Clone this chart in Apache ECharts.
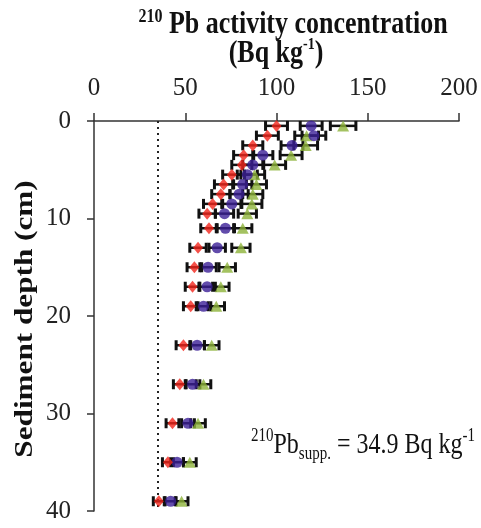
<!DOCTYPE html>
<html>
<head>
<meta charset="utf-8">
<script src="https://cdn.jsdelivr.net/npm/echarts@6/dist/echarts.min.js"></script>
<style>
  html, body { margin: 0; padding: 0; background: #fff; }
  #main { width: 481px; height: 528px; }
</style>
</head>
<body>
<div id="main"></div>
<script>
// depth (cm) of each sample, shared by the three cores
const depths = [0.5, 1.5, 2.5, 3.5, 4.5, 5.5, 6.5, 7.5, 8.5, 9.5, 11, 13, 15, 17, 19, 23, 27, 31, 35, 39];

// 210Pb activity (Bq/kg)
const redValues = [100, 95, 87, 82, 81, 75.5, 71, 69.5, 65, 62, 63, 57, 55, 54, 53, 49, 47, 43, 40.5, 35.5];
const blueValues = [119, 120.5, 108.5, 92.5, 87, 84, 81.5, 79.5, 75.5, 71.5, 72, 67.5, 62.5, 62, 60, 56.5, 54, 51.5, 45.5, 42];
const greenValues = [136.5, 116.5, 116, 108, 99, 88, 89, 87, 86.5, 84, 81.5, 80.5, 73, 69.5, 67, 64.5, 60, 57, 52.5, 48];

// +/- uncertainties
const redErrors = [6, 6, 5.5, 5.5, 5.5, 5, 5, 5, 5, 4.5, 4.5, 4.5, 4, 4, 4, 4, 3.5, 3.5, 3, 3];
const blueErrors = [6, 6.5, 6, 5.5, 5.5, 5.5, 5, 5, 5, 5, 5, 4.5, 4.5, 4.5, 4, 4, 4, 3.5, 3.5, 3];
const greenErrors = [7, 6.5, 6.5, 6, 6, 5.5, 5.5, 5.5, 5.5, 5, 5, 5, 4.5, 4.5, 4.5, 4, 4, 4, 3.5, 3.5];

const xTicks = [0, 50, 100, 150, 200];
const yTicks = [0, 10, 20, 30, 40];
const supportedPb = 34.9;

const serif = '"Liberation Serif", "Times New Roman", serif';

function toPoints(values) {
  return values.map((v, i) => [v, depths[i]]);
}
function toBars(values, errs) {
  return values.map((v, i) => [v - errs[i], v + errs[i], depths[i]]);
}

function renderErrorBar(params, api) {
  const lo = api.coord([api.value(0), api.value(2)]);
  const hi = api.coord([api.value(1), api.value(2)]);
  const h = 5;
  const style = { stroke: '#111', lineWidth: 2.5 };
  const cap = { stroke: '#111', lineWidth: 3 };
  return {
    type: 'group',
    children: [
      { type: 'line', shape: { x1: lo[0], y1: lo[1], x2: hi[0], y2: hi[1] }, style: style },
      { type: 'line', shape: { x1: lo[0], y1: lo[1] - h, x2: lo[0], y2: lo[1] + h }, style: cap },
      { type: 'line', shape: { x1: hi[0], y1: hi[1] - h, x2: hi[0], y2: hi[1] + h }, style: cap }
    ]
  };
}

function errorSeries(values, errs) {
  return {
    type: 'custom',
    renderItem: renderErrorBar,
    data: toBars(values, errs),
    encode: { x: [0, 1], y: 2 },
    z: 1,
    silent: true
  };
}

const option = {
  animation: false,
  grid: { left: 94, right: 22, top: 121, bottom: 17 },
  xAxis: {
    type: 'value',
    position: 'top',
    min: xTicks[0],
    max: xTicks[xTicks.length - 1],
    interval: 50,
    axisLine: { show: true, onZero: false, lineStyle: { color: '#333', width: 1.5 } },
    axisTick: { show: true, length: 8, lineStyle: { color: '#333', width: 1.5 } },
    axisLabel: { fontFamily: serif, fontSize: 25, color: '#222', margin: 20 },
    splitLine: { show: false }
  },
  yAxis: {
    type: 'value',
    inverse: true,
    min: yTicks[0],
    max: yTicks[yTicks.length - 1],
    interval: 10,
    axisLine: { show: true, onZero: false, lineStyle: { color: '#333', width: 1.5 } },
    axisTick: { show: true, length: 7, lineStyle: { color: '#333', width: 1.5 } },
    axisLabel: { fontFamily: serif, fontSize: 25, color: '#222', margin: 23 },
    splitLine: { show: false }
  },
  graphic: [
    {
      type: 'text', x: 293, y: 25, scaleY: 1.2,
      style: {
        text: '{sup|210}{b| Pb activity concentration}',
        align: 'center', verticalAlign: 'middle',
        rich: {
          b: { fontFamily: serif, fontWeight: 'bold', fontSize: 26, fill: '#111', lineHeight: 30 },
          sup: { fontFamily: serif, fontWeight: 'bold', fontSize: 16, fill: '#111', verticalAlign: 'top', lineHeight: 30 }
        }
      }
    },
    {
      type: 'text', x: 276, y: 54, scaleY: 1.2,
      style: {
        text: '{b|(Bq kg}{sup|-1}{b|)}',
        align: 'center', verticalAlign: 'middle',
        rich: {
          b: { fontFamily: serif, fontWeight: 'bold', fontSize: 26, fill: '#111', lineHeight: 30 },
          sup: { fontFamily: serif, fontWeight: 'bold', fontSize: 14, fill: '#111', verticalAlign: 'top', lineHeight: 30 }
        }
      }
    },
    {
      type: 'text', x: 25, y: 319, rotation: Math.PI / 2, scaleX: 1.2,
      style: {
        text: 'Sediment depth (cm)',
        align: 'center', verticalAlign: 'middle',
        fontFamily: serif, fontWeight: 'bold', fontSize: 26, fill: '#111'
      }
    },
    {
      type: 'text', x: 363, y: 445, scaleY: 1.2,
      style: {
        text: '{sup|210}{n|Pb}{sub|supp.}{n| = ' + supportedPb + ' Bq kg}{sup|-1}',
        align: 'center', verticalAlign: 'middle',
        rich: {
          n: { fontFamily: serif, fontSize: 24, fill: '#111', lineHeight: 30 },
          sup: { fontFamily: serif, fontSize: 15, fill: '#111', verticalAlign: 'top', lineHeight: 30 },
          sub: { fontFamily: serif, fontSize: 15, fill: '#111', verticalAlign: 'bottom', lineHeight: 30 }
        }
      }
    }
  ],
  series: [
    errorSeries(greenValues, greenErrors),
    errorSeries(blueValues, blueErrors),
    errorSeries(redValues, redErrors),
    {
      type: 'scatter',
      data: toPoints(greenValues),
      symbol: 'triangle',
      symbolSize: [12, 11],
      itemStyle: { color: '#8db33a' },
      z: 3
    },
    {
      type: 'scatter',
      data: toPoints(blueValues),
      symbol: 'circle',
      symbolSize: 11,
      itemStyle: { color: '#3b1f96' },
      z: 4
    },
    {
      type: 'scatter',
      data: toPoints(redValues),
      symbol: 'diamond',
      symbolSize: [10, 12],
      itemStyle: { color: '#f2261c' },
      z: 5,
      markLine: {
        silent: true,
        symbol: ['none', 'none'],
        label: { show: false },
        lineStyle: { type: [2, 4], color: '#222', width: 2 },
        data: [{ xAxis: supportedPb }]
      }
    }
  ]
};

const chart = echarts.init(document.getElementById('main'));
chart.setOption(option);
window.addEventListener('resize', function () {
  chart.resize();
});
</script>
</body>
</html>
